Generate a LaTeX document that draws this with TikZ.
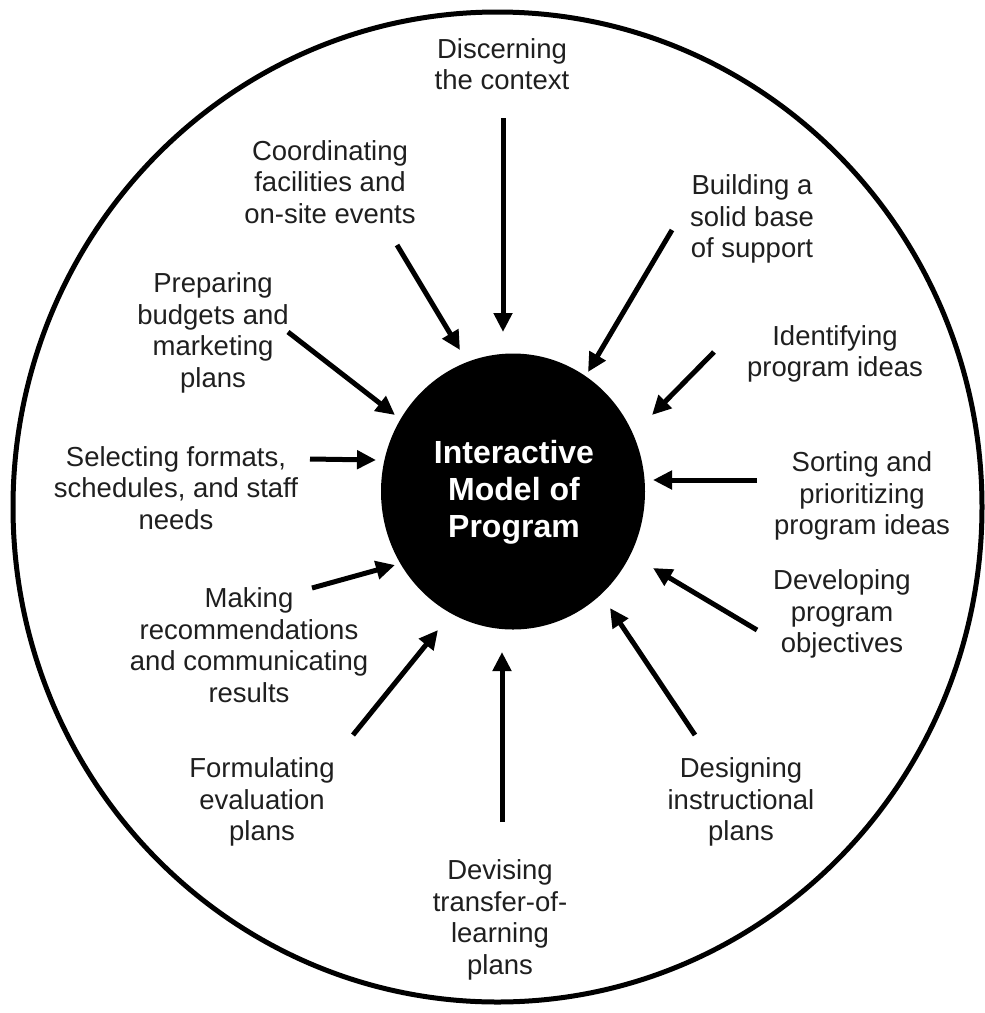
\documentclass[tikz,border=0pt]{standalone}
\usepackage{fontspec}
\setmainfont{Liberation Sans}
\usetikzlibrary{arrows.meta}

\tikzset{
    label text/.style={align=center, text=black!88,
        font=\fontsize{27.5}{31.5}\selectfont},
    hub text/.style={align=center, text=white,
        font=\bfseries\fontsize{32}{37}\selectfont},
    push arrow/.style={line width=5pt,
        -{Triangle[length=19pt,width=18pt]}}
}

\begin{document}
\begin{tikzpicture}[x=1pt,y=1pt,yscale=-1,xscale=1]

    \useasboundingbox (0,0) rectangle (985,1013);
    \fill[white] (0,0) rectangle (985,1013);

    % outer ring and the black hub
    \draw[line width=5pt] (497.5,507) ellipse [x radius=484.5, y radius=495];
    \fill[black] (513,491.5) ellipse [x radius=132, y radius=138];
    \node[hub text] (hub) at (514,492)
        {Interactive\\Model of\\Program};

    % the twelve tasks, clockwise from the top
    \node[label text] (context)   at (502,64)  {Discerning\\the context};
    \node[label text] (support)   at (752,219) {Building a\\solid base\\of support};
    \node[label text] (ideas)     at (835,354) {Identifying\\program ideas};
    \node[label text] (sorting)   at (862,496) {Sorting and\\prioritizing\\program ideas};
    \node[label text] (objective) at (842,614) {Developing\\program\\objectives};
    \node[label text] (instruct)  at (741,802) {Designing\\instructional\\plans};
    \node[label text] (transfer)  at (500,920) {Devising\\transfer-of-\\learning\\plans};
    \node[label text] (evaluate)  at (262,802) {Formulating\\evaluation\\plans};
    \node[label text] (results)   at (249,645) {Making\\recommendations\\and communicating\\results};
    \node[label text] (formats)   at (176,488) {Selecting formats,\\schedules, and staff\\needs};
    \node[label text] (budgets)   at (213,333) {Preparing\\budgets and\\marketing\\plans};
    \node[label text] (events)    at (330,182) {Coordinating\\facilities and\\on-site events};

    % arrows into the hub: tail x/y, tip x/y
    \foreach \n/\ax/\ay/\bx/\by in {
        1/503/118/503/332,
        2/672/230/588/372,
        3/714/352/652/415,
        4/757/480/653/480,
        5/757/630/653/568,
        6/695/735/610/608,
        7/502/822/502/652,
        8/353/735/438/630,
        9/312/588/395/565,
        10/310/459/376/460,
        11/288/332/395/415,
        12/397/245/460/350}{
        \coordinate (tail\n) at (\ax,\ay);
        \coordinate (tip\n) at (\bx,\by);
        \draw[push arrow] (tail\n) -- (tip\n);
    }

\end{tikzpicture}
\end{document}
